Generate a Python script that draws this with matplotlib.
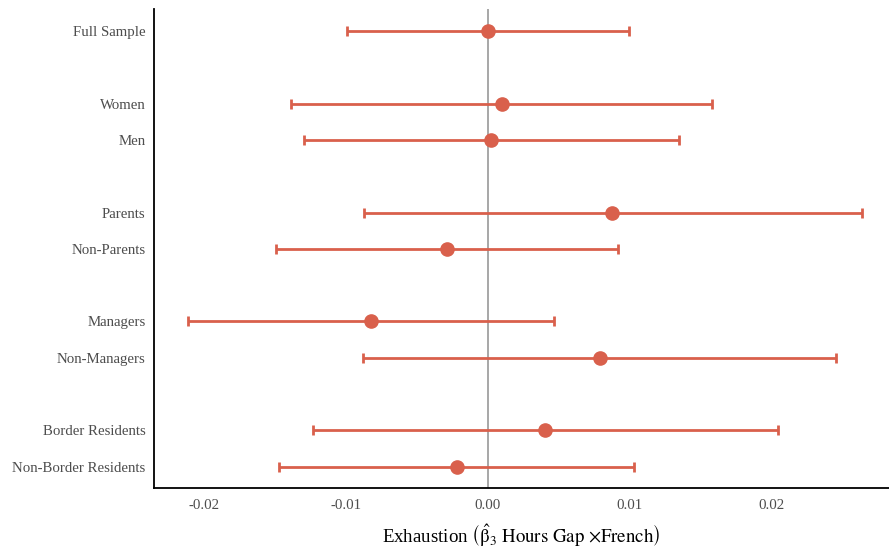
import matplotlib
matplotlib.use("Agg")
import matplotlib.pyplot as plt

plt.rcParams["font.family"] = ["Liberation Serif", "DejaVu Serif"]
plt.rcParams["mathtext.fontset"] = "stix"

# subgroup estimates with 95% CI bounds
labels = ["Full Sample", "Women", "Men", "Parents", "Non-Parents",
          "Managers", "Non-Managers", "Border Residents", "Non-Border Residents"]
rows = [0, 2, 3, 5, 6, 8, 9, 11, 12]
est = [0.0000, 0.00099, 0.00023, 0.00879, -0.00289, -0.00825, 0.00790, 0.00406, -0.00219]
ci_lo = [-0.00990, -0.01385, -0.01293, -0.00874, -0.01493, -0.02116, -0.00881, -0.01230, -0.01472]
ci_hi = [0.00994, 0.01584, 0.01347, 0.02637, 0.00921, 0.00470, 0.02458, 0.02049, 0.01034]

col = "#d9604c"

fig = plt.figure(figsize=(8.89, 5.51), dpi=100)
ax = fig.add_axes([0.1732, 0.1138, 0.8268, 0.8699])

ax.axvline(0, color="#a0a0a0", linewidth=1.3, zorder=1)
err = [[e - l for e, l in zip(est, ci_lo)], [h - e for e, h in zip(est, ci_hi)]]
ax.errorbar(est, rows, xerr=err, fmt="o", color=col, ecolor=col,
            markersize=9.5, elinewidth=2.0, capsize=3.5, capthick=2.0, zorder=3)

ax.set_xlim(-0.02353, 0.02830)
ax.set_ylim(12.6, -0.615)
ax.set_yticks(rows)
ax.set_yticklabels(labels)
ax.set_xticks([-0.02, -0.01, 0.0, 0.01, 0.02])
ax.set_xticklabels(["-0.02", "-0.01", "0.00", "0.01", "0.02"])
ax.tick_params(length=0, labelsize=10.7, labelcolor="#4d4d4d")
ax.tick_params(axis="y", pad=6)
ax.tick_params(axis="x", pad=8)

for s in ("top", "right"):
    ax.spines[s].set_visible(False)
for s in ("left", "bottom"):
    ax.spines[s].set_linewidth(1.3)
    ax.spines[s].set_color("black")

ax.set_xlabel(r"Exhaustion $\left(\hat{\mathrm{β}}_3\ \mathrm{Hours\ Gap\ {\times}French}\right)$",
              fontsize=13.6, labelpad=7)

fig.savefig("out.png", dpi=100)
